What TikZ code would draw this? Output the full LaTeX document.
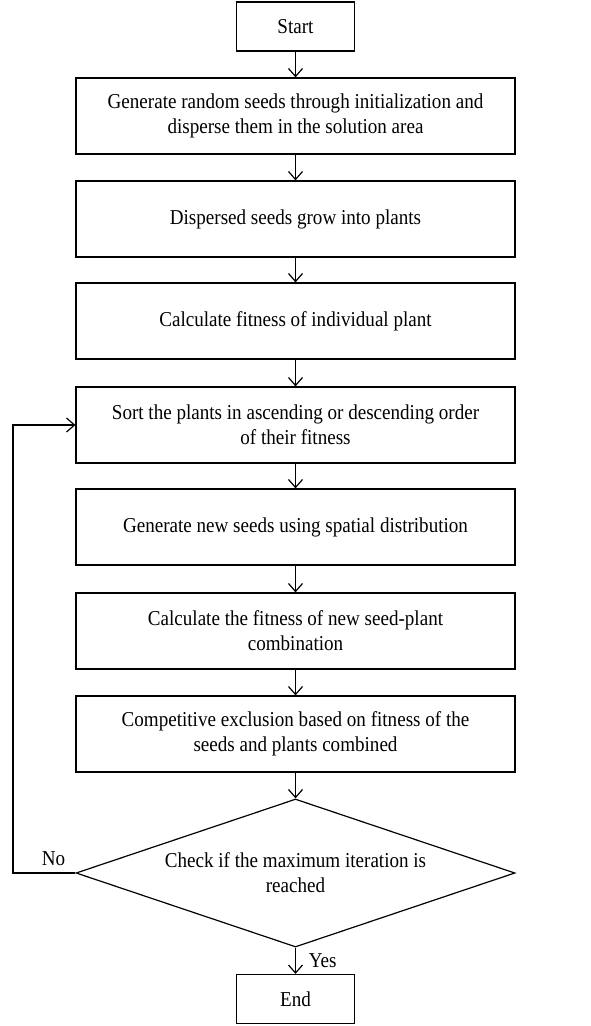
\documentclass[tikz,border=0pt]{standalone}
\usepackage{fontspec}
\setmainfont[FakeStretch=0.9]{Liberation Serif}
\usetikzlibrary{shapes.geometric,arrows.meta}

\begin{document}
\begin{tikzpicture}[x=0.5pt, y=-0.5pt,
        >={Straight Barb[length=4pt,width=7pt]},
        every path/.style={line width=0.6pt},
        lbl/.style={font=\fontsize{10.6}{12.5}\selectfont},
        proc/.style={draw, lbl, minimum width=219.5pt, minimum height=38pt, align=center},
        term/.style={draw, lbl, minimum width=59pt, minimum height=24.5pt},
        check/.style={draw, diamond, lbl, aspect=2.97, inner sep=0pt, minimum width=219.5pt, minimum height=74pt, align=center}]
        \useasboundingbox (0,0) rectangle (590,1026);

        % Start and end
        \node[term] (start) at (295.5,26.5) {Start};
        \node[term] (end) at (295.5,999) {End};

        % Process boxes
        \node[proc] (init) at (295.5,116) {Generate random seeds through initialization and\\disperse them in the solution area};
        \node[proc] (grow) at (295.5,219) {Dispersed seeds grow into plants};
        \node[proc] (fit) at (295.5,321) {Calculate fitness of individual plant};
        \node[proc] (sort) at (295.5,425) {Sort the plants in ascending or descending order\\of their fitness};
        \node[proc] (spread) at (295.5,527) {Generate new seeds using spatial distribution};
        \node[proc] (refit) at (295.5,631) {Calculate the fitness of new seed-plant\\combination};
        \node[proc] (excl) at (295.5,734) {Competitive exclusion based on fitness of the\\seeds and plants combined};

        % Decision
        \node[check] (iter) at (295.5,873) {Check if the maximum iteration is\\reached};

        % Connections
        \draw[->] (start) -- (init);
        \draw[->] (init) -- (grow);
        \draw[->] (grow) -- (fit);
        \draw[->] (fit) -- (sort);
        \draw[->] (sort) -- (spread);
        \draw[->] (spread) -- (refit);
        \draw[->] (refit) -- (excl);
        \draw[->] (excl) -- (iter);
        \draw[->] (iter) -- node[right, lbl, xshift=3pt] {Yes} (end);

        % Feedback path
        \draw[->] (iter.west) -- node[pos=0.35, above, lbl] {No} (13,873) |- (sort.west);
\end{tikzpicture}
\end{document}
